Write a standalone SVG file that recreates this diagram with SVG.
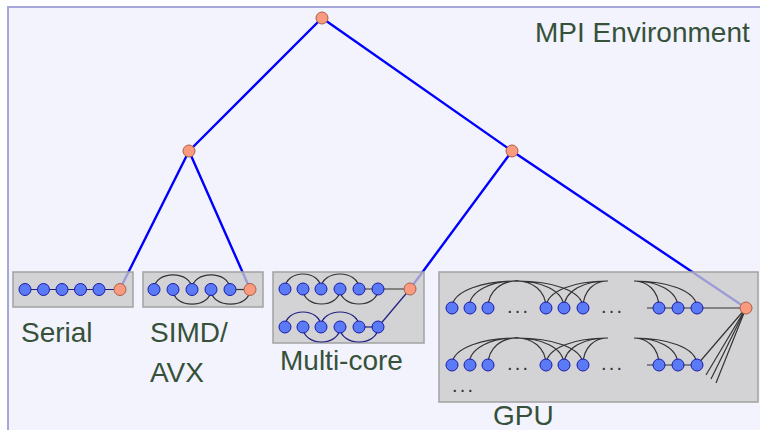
<svg xmlns="http://www.w3.org/2000/svg" width="760" height="430" viewBox="0 0 760 430">
  <defs>
    <style>
      .frame { fill: #f3f3fd; stroke: #a6a6da; stroke-width: 2; }
      .box { fill: #c9c9c9; fill-opacity: 0.78; stroke: #a2a2a2; stroke-width: 1.5; }
      .tree { stroke: #0000ff; stroke-width: 2.4; fill: none; stroke-linecap: round; }
      .k { stroke: #333333; stroke-width: 1.2; fill: none; }
      .n { stroke: #1e1e80; stroke-width: 1.2; fill: none; }
      .b { fill: #5b7bf6; stroke: #1a1aa8; stroke-width: 1; }
      .o { fill: #fa9a7e; stroke: #a8604a; stroke-width: 1; }
      .lbl { font-family: "Liberation Sans", Arial, sans-serif; font-size: 28px; fill: #36513a; }
      .dots { font-family: "Liberation Sans", Arial, sans-serif; font-size: 20px; fill: #333333; letter-spacing: 2.2px; }
    </style>
    <!-- clip regions are in the row's local space (node centre line at y = 0) -->
    <clipPath id="clipLeft"><rect x="430" y="-50" width="178" height="60"/></clipPath>
    <clipPath id="clipRight"><rect x="634" y="-50" width="120" height="60"/></clipPath>
    <!-- one GPU row of arcs, drawn about y = 0 -->
    <g id="gpuArcs">
      <path class="k" d="M452,0 C452,-36 583,-36 583,0 M469,0 C469,-36 564,-36 564,0 M488,0 C488,-36 546,-36 546,0"/>
      <path class="k" clip-path="url(#clipLeft)" d="M583,0 C583,-36 631,-36 631,0 M564,0 C564,-36 650,-36 650,0 M546,0 C546,-36 668,-36 668,0"/>
      <path class="k" clip-path="url(#clipRight)" d="M609,0 C609,-36 659,-36 659,0 M590,0 C590,-36 678,-36 678,0 M571,0 C571,-36 697,-36 697,0"/>
      <line class="k" x1="647" y1="0" x2="697" y2="0"/>
    </g>
    <g id="gpuNodes">
      <circle class="b" cx="452" cy="0" r="6"/>
      <circle class="b" cx="470" cy="0" r="6"/>
      <circle class="b" cx="488" cy="0" r="6"/>
      <circle class="b" cx="546" cy="0" r="6"/>
      <circle class="b" cx="564" cy="0" r="6"/>
      <circle class="b" cx="583" cy="0" r="6"/>
      <circle class="b" cx="659" cy="0" r="6"/>
      <circle class="b" cx="678" cy="0" r="6"/>
      <circle class="b" cx="697" cy="0" r="6"/>
      <text class="dots" x="507" y="5">...</text>
      <text class="dots" x="601" y="5">...</text>
    </g>
  </defs>

  <!-- environment frame -->
  <rect class="frame" x="8" y="7" width="800" height="480"/>
  <text class="lbl" x="535" y="42">MPI Environment</text>

  <!-- tree connectors -->
  <g id="connectors">
    <line class="tree" x1="322" y1="18" x2="189" y2="151"/>
    <line class="tree" x1="322" y1="18" x2="512" y2="151"/>
    <line class="tree" x1="189" y1="151" x2="120" y2="289"/>
    <line class="tree" x1="189" y1="151" x2="250" y2="289"/>
    <line class="tree" x1="512" y1="151" x2="410" y2="289"/>
    <line class="tree" x1="512" y1="151" x2="746" y2="308"/>
  </g>

  <!-- root and intermediate ranks -->
  <g id="root"><circle class="o" cx="322" cy="18" r="6"/></g>
  <g id="mid-left"><circle class="o" cx="189" cy="151" r="6"/></g>
  <g id="mid-right"><circle class="o" cx="512" cy="151" r="6"/></g>

  <!-- serial -->
  <g id="serial">
    <rect class="box" x="13" y="272" width="120" height="35"/>
    <line class="n" x1="25" y1="289.5" x2="120" y2="289.5"/>
    <circle class="b" cx="25" cy="289.5" r="6"/>
    <circle class="b" cx="43.5" cy="289.5" r="6"/>
    <circle class="b" cx="62" cy="289.5" r="6"/>
    <circle class="b" cx="80.5" cy="289.5" r="6"/>
    <circle class="b" cx="99" cy="289.5" r="6"/>
    <circle class="o" cx="120" cy="289.5" r="6"/>
    <text class="lbl" x="21" y="342">Serial</text>
  </g>

  <!-- SIMD / AVX -->
  <g id="simd">
    <rect class="box" x="143" y="272" width="120" height="35"/>
    <path class="k" d="M154,289.5 C154,270 192,270 192,289.5 M192,289.5 C192,270 230,270 230,289.5 M173,289.5 C173,309 211,309 211,289.5 M211,289.5 C211,309 250,309 250,289.5"/>
    <line class="k" x1="230" y1="289.5" x2="250" y2="289.5"/>
    <circle class="b" cx="154" cy="289.5" r="6"/>
    <circle class="b" cx="173" cy="289.5" r="6"/>
    <circle class="b" cx="192" cy="289.5" r="6"/>
    <circle class="b" cx="211" cy="289.5" r="6"/>
    <circle class="b" cx="230" cy="289.5" r="6"/>
    <circle class="o" cx="250" cy="289.5" r="6"/>
    <text class="lbl" x="150" y="342">SIMD/</text>
    <text class="lbl" x="150" y="382">AVX</text>
  </g>

  <!-- multi-core -->
  <g id="multicore">
    <rect class="box" x="273" y="272" width="151" height="71"/>
    <path class="k" d="M285,289 C285,269 321,269 321,289 M321,289 C321,269 359,269 359,289 M303,289 C303,309 340,309 340,289 M340,289 C340,309 378,309 378,289"/>
    <line class="k" x1="359" y1="289" x2="410" y2="289"/>
    <path class="n" d="M285,327 C285,307 321,307 321,327 M321,327 C321,307 359,307 359,327 M303,327 C303,347 340,347 340,327 M340,327 C340,347 378,347 378,327"/>
    <line class="n" x1="359" y1="327" x2="378" y2="327"/>
    <line class="n" x1="378" y1="327" x2="410" y2="289"/>
    <circle class="b" cx="285" cy="289" r="6"/>
    <circle class="b" cx="303" cy="289" r="6"/>
    <circle class="b" cx="321" cy="289" r="6"/>
    <circle class="b" cx="340" cy="289" r="6"/>
    <circle class="b" cx="359" cy="289" r="6"/>
    <circle class="b" cx="378" cy="289" r="6"/>
    <circle class="b" cx="285" cy="327" r="6"/>
    <circle class="b" cx="303" cy="327" r="6"/>
    <circle class="b" cx="321" cy="327" r="6"/>
    <circle class="b" cx="340" cy="327" r="6"/>
    <circle class="b" cx="359" cy="327" r="6"/>
    <circle class="b" cx="378" cy="327" r="6"/>
    <circle class="o" cx="410" cy="289" r="6"/>
    <text class="lbl" x="280" y="370">Multi-core</text>
  </g>

  <!-- GPU -->
  <g id="gpu">
    <rect class="box" x="439" y="272" width="319" height="130"/>
    <use href="#gpuArcs" transform="translate(0,308)"/>
    <use href="#gpuArcs" transform="translate(0,365)"/>
    <line class="k" x1="697" y1="308" x2="746" y2="308"/>
    <line class="k" x1="697" y1="365" x2="746" y2="308"/>
    <line class="k" x1="706" y1="375" x2="746" y2="308"/>
    <line class="k" x1="711" y1="379" x2="746" y2="308"/>
    <line class="k" x1="716" y1="383" x2="746" y2="308"/>
    <use href="#gpuNodes" transform="translate(0,308)"/>
    <use href="#gpuNodes" transform="translate(0,365)"/>
    <text class="dots" x="452" y="392">...</text>
    <circle class="o" cx="746" cy="308" r="6"/>
    <text class="lbl" x="493" y="425">GPU</text>
  </g>
</svg>
